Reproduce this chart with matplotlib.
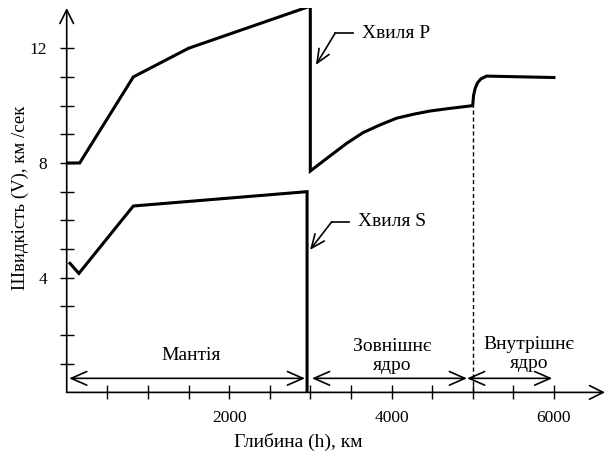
import matplotlib.pyplot as plt

plt.rcParams['font.family'] = ['Liberation Serif', 'DejaVu Serif']
plt.rcParams['font.size'] = 12

# P wave velocity vs depth
p_depth = [0, 160, 820, 1500, 3000, 3000, 3120, 3240, 3450, 3650, 3860, 4060, 4270,
           4470, 4680, 5000, 5010, 5030, 5060, 5100, 5170, 6000]
p_vel = [8.0, 8.0, 11.0, 12.0, 13.47, 7.72, 7.98, 8.24, 8.69, 9.06, 9.33, 9.56, 9.70,
         9.81, 9.89, 10.0, 10.35, 10.6, 10.8, 10.93, 11.03, 10.98]

# S wave velocity vs depth
s_depth = [40, 150, 820, 2960, 2960]
s_vel = [4.5, 4.15, 6.5, 7.0, 0.0]

# inner core boundary
icb_depth = 5000
icb_vel = 10.0

zone_names = ["Мантія", "Зовнішнє\nядро", "Внутрішнє\nядро"]
zone_start = [30, 3020, 4930]
zone_end = [2935, 4930, 5980]
zone_label_x = [1530, 4010, 5690]
zone_label_y = [1.30, 1.28, 1.34]

fig = plt.figure(figsize=(6.07, 4.54), dpi=100)
ax = fig.add_axes([0.1099, 0.1357, 0.8868, 0.8467])
ax.set_xlim(0, 6629)
ax.set_ylim(0, 13.405)

for s in ax.spines.values():
    s.set_visible(False)

# axes with arrows
arr = dict(arrowstyle='->,head_length=0.7,head_width=0.35', lw=1.2, color='k',
           shrinkA=0, shrinkB=0, mutation_scale=14)
ax.annotate('', xy=(0, 1), xytext=(0, 0), xycoords='axes fraction', arrowprops=arr)
ax.annotate('', xy=(1, 0), xytext=(0, 0), xycoords='axes fraction', arrowprops=arr)

ax.set_xticks(range(500, 6001, 500))
ax.set_xticklabels(['2000' if v == 2000 else '4000' if v == 4000 else '6000' if v == 6000 else ''
                    for v in range(500, 6001, 500)])
ax.set_yticks(range(1, 13))
ax.set_yticklabels([str(v) if v in (4, 8, 12) else '' for v in range(1, 13)])
ax.tick_params(direction='inout', length=10, width=1, labelsize=12.5)
ax.tick_params(axis='x', pad=8)
ax.tick_params(axis='y', pad=9)

ax.plot(p_depth, p_vel, color='k', lw=2.2, solid_joinstyle='miter')
ax.plot(s_depth, s_vel, color='k', lw=2.2, solid_joinstyle='miter')
ax.plot([icb_depth, icb_depth], [0, icb_vel], color='k', lw=1, ls=(0, (3, 2)))

# wave labels
lead = dict(arrowstyle='->,head_length=0.7,head_width=0.3', lw=1.2, color='k',
            shrinkA=0, shrinkB=0, mutation_scale=14)
ax.plot([3304, 3522], [12.52, 12.52], color='k', lw=1.2)
ax.annotate('', xy=(3069, 11.42), xytext=(3304, 12.52), arrowprops=lead)
ax.text(3633, 12.52, 'Хвиля P', ha='left', va='center', fontsize=14)
ax.plot([3264, 3480], [5.95, 5.95], color='k', lw=1.2)
ax.annotate('', xy=(2996, 4.97), xytext=(3264, 5.95), arrowprops=lead)
ax.text(3591, 5.95, 'Хвиля S', ha='left', va='center', fontsize=14)

# zones
zarr = dict(arrowstyle='<->,head_length=0.8,head_width=0.35', lw=1.2, color='k',
            shrinkA=0, shrinkB=0, mutation_scale=14)
for name, x0, x1, lx, ly in zip(zone_names, zone_start, zone_end, zone_label_x, zone_label_y):
    ax.annotate('', xy=(x1, 0.49), xytext=(x0, 0.49), arrowprops=zarr)
    ax.text(lx, ly, name, ha='center', va='center', fontsize=14, linespacing=1.15)

fig.text(298 / 607, 1 - 442 / 454, 'Глибина (h), км', ha='center', va='center', fontsize=14)
fig.text(20 / 607, 1 - 198 / 454, 'Швидкість (V), км /сек', ha='center', va='center',
         rotation=90, fontsize=13.5)

fig.savefig('out.png', dpi=100)
